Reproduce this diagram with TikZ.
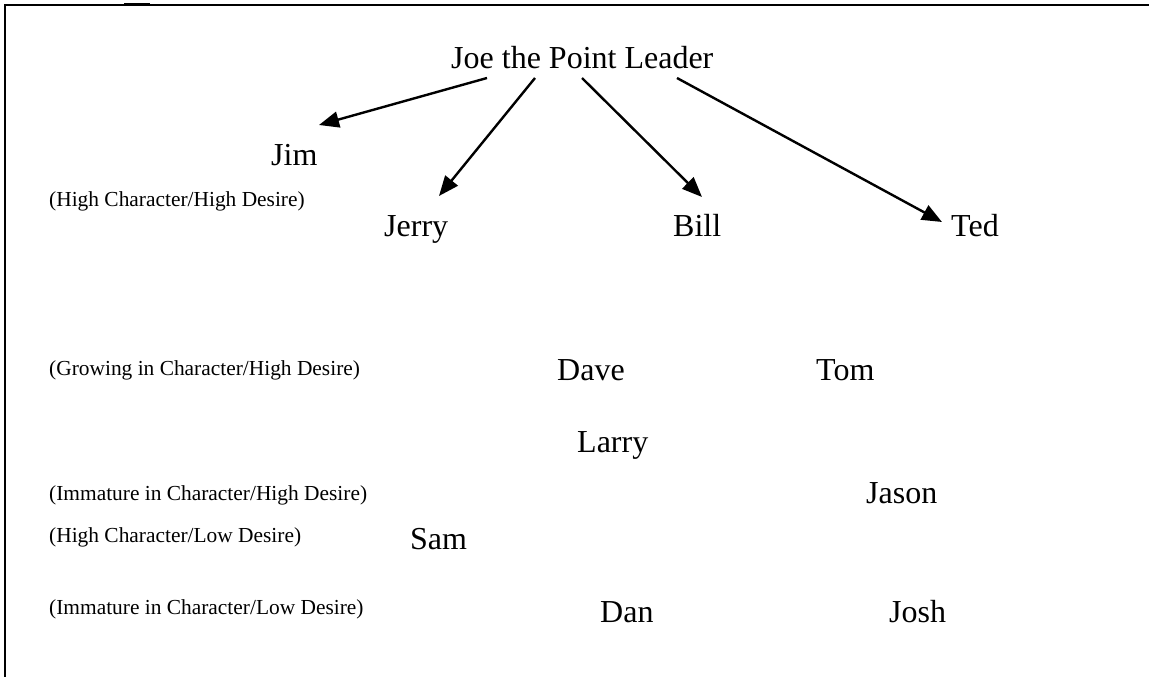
\documentclass[tikz,border=0pt]{standalone}
\usepackage{fontspec}
\setmainfont{Liberation Serif}
\usetikzlibrary{arrows.meta}
\begin{document}
\begin{tikzpicture}[x=1pt,y=-1pt,
  big/.style={anchor=base west,inner sep=0pt,font=\fontsize{32}{36}\selectfont},
  small/.style={anchor=base west,inner sep=0pt,font=\fontsize{21.4}{24}\selectfont},
  arr/.style={line width=2.4pt,-{Triangle[length=20pt,width=16pt]}},
  frame/.style={line width=2pt}]
\useasboundingbox (0,0) rectangle (1149,677);
% frame
\draw[frame] (5,677) -- (5,5.5) -- (1149,5.5);
\draw[line width=3pt] (124,5) -- (150,5);
% nodes
\node[big] (joe) at (451,69) {Joe the Point Leader};
\node[big] (jim) at (271,165) {Jim};
\node[big] (jerry) at (384,236) {Jerry};
\node[big] (bill) at (673,236) {Bill};
\node[big] (ted) at (951,236) {Ted};
\node[big] (dave) at (557,380) {Dave};
\node[big] (tom) at (816,380) {Tom};
\node[big] (larry) at (577,452) {Larry};
\node[big] (jason) at (866,503) {Jason};
\node[big] (sam) at (410,549) {Sam};
\node[big] (dan) at (600,622) {Dan};
\node[big] (josh) at (889,622) {Josh};
\node[small] (l1) at (49,206) {(High Character/High Desire)};
\node[small] (l2) at (49,375) {(Growing in Character/High Desire)};
\node[small] (l3) at (49,500) {(Immature in Character/High Desire)};
\node[small] (l4) at (49,542) {(High Character/Low Desire)};
\node[small] (l5) at (49,614) {(Immature in Character/Low Desire)};
% connector ends
\coordinate (s1) at (487,78);
\coordinate (e1) at (319,125);
\coordinate (s2) at (535,78);
\coordinate (e2) at (439,196);
\coordinate (s3) at (582,78);
\coordinate (e3) at (702,197);
\coordinate (s4) at (677,78);
\coordinate (e4) at (942,222);
\draw[arr] (s1) -- (e1);
\draw[arr] (s2) -- (e2);
\draw[arr] (s3) -- (e3);
\draw[arr] (s4) -- (e4);
\end{tikzpicture}
\end{document}
